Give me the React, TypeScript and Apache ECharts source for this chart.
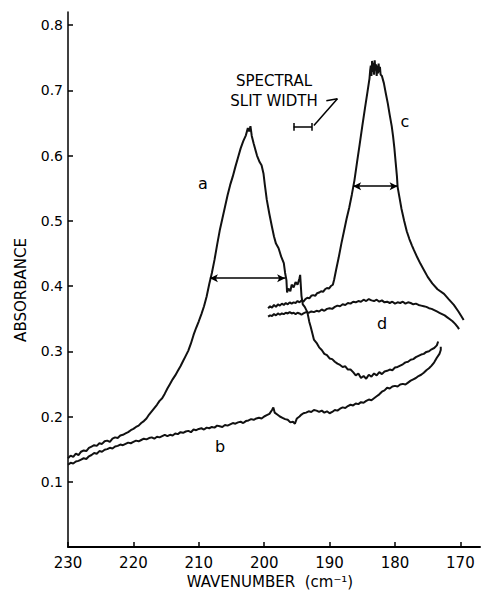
import React, { useEffect, useRef } from "react";
import * as echarts from "echarts";

// Wavenumber (cm^-1) tick labels and absorbance tick labels
const xTicks = [230, 220, 210, 200, 190, 180, 170];
const yTicks = [0.1, 0.2, 0.3, 0.4, 0.5, 0.6, 0.7, 0.8];

// Curve a
const curveA: [number, number][] = [
  [230.0,0.136],[229.6,0.140],[229.2,0.138],[228.8,0.143],[228.4,0.141],[228.0,0.146],[227.6,0.148],[227.2,0.147],
  [226.8,0.152],[226.4,0.154],[226.0,0.156],[225.6,0.155],[225.2,0.159],[224.8,0.158],[224.4,0.162],[224.0,0.163],
  [223.6,0.161],[223.2,0.166],[222.8,0.168],[222.4,0.167],[222.0,0.171],[221.6,0.172],[221.2,0.174],[220.8,0.176],
  [220.4,0.179],[220.0,0.181],[219.6,0.184],[219.2,0.186],[218.8,0.190],[218.4,0.193],[218.0,0.197],[217.6,0.203],
  [217.2,0.208],[216.8,0.213],[216.4,0.218],[216.0,0.224],[215.6,0.228],[215.2,0.235],[214.8,0.243],[214.4,0.250],
  [214.0,0.257],[213.6,0.263],[213.2,0.270],[212.8,0.277],[212.4,0.285],[212.0,0.293],[211.6,0.301],[211.2,0.312],
  [210.8,0.325],[210.4,0.336],[210.0,0.346],[209.6,0.357],[209.2,0.369],[208.8,0.384],[208.4,0.403],[208.0,0.420],
  [207.6,0.440],[207.2,0.463],[206.8,0.485],[206.4,0.503],[206.0,0.521],[205.6,0.539],[205.2,0.555],[204.8,0.568],
  [204.4,0.583],[204.0,0.597],[203.6,0.611],[203.2,0.622],[202.8,0.631],[202.5,0.642],[202.3,0.637],[202.1,0.645],
  [201.9,0.630],[201.6,0.618],[201.1,0.600],[200.7,0.590],[200.4,0.585],[200.1,0.572],[199.9,0.555],[199.6,0.532],
  [199.2,0.510],[198.8,0.490],[198.5,0.476],[198.2,0.465],[197.8,0.458],[197.4,0.445],[197.0,0.435],[196.8,0.420],
  [196.6,0.409],[196.5,0.390],[196.3,0.396],[196.0,0.392],[195.8,0.402],[195.5,0.398],[195.2,0.406],[194.9,0.402],
  [194.6,0.412],[194.5,0.417],[194.3,0.385],[194.1,0.372],[193.8,0.368],[193.4,0.360],[193.1,0.345],[192.9,0.338],
  [192.6,0.326],[192.4,0.318],[192.0,0.313],[191.6,0.306],[191.2,0.302],[190.8,0.296],[190.4,0.294],[190.0,0.289],
  [189.6,0.288],[189.2,0.284],[188.8,0.281],[188.4,0.279],[188.0,0.276],[187.6,0.277],[187.2,0.272],[186.8,0.272],
  [186.4,0.268],[186.0,0.263],[185.6,0.266],[185.2,0.259],[184.8,0.262],[184.4,0.258],[184.0,0.264],[183.6,0.261],
  [183.2,0.266],[182.8,0.263],[182.4,0.268],[182.0,0.265],[181.6,0.269],[181.2,0.270],[180.8,0.272],[180.4,0.271],
  [180.0,0.275],[179.6,0.276],[179.2,0.278],[178.8,0.280],[178.4,0.283],[178.0,0.284],[177.6,0.287],[177.2,0.288],
  [176.8,0.291],[176.4,0.293],[176.0,0.295],[175.6,0.296],[175.2,0.299],[174.8,0.300],[174.4,0.303],[174.0,0.305],
  [173.6,0.309],[173.4,0.315]
];

// Curve b
const curveB: [number, number][] = [
  [230.0,0.126],[229.6,0.129],[229.2,0.128],[228.8,0.131],[228.4,0.132],[228.0,0.134],[227.6,0.136],[227.2,0.135],
  [226.8,0.139],[226.4,0.141],[226.0,0.144],[225.6,0.143],[225.2,0.147],[224.8,0.146],[224.4,0.149],[224.0,0.150],
  [223.6,0.152],[223.2,0.151],[222.8,0.154],[222.4,0.155],[222.0,0.157],[221.6,0.156],[221.2,0.158],[220.8,0.160],
  [220.4,0.159],[220.0,0.161],[219.6,0.163],[219.2,0.162],[218.8,0.164],[218.4,0.166],[218.0,0.165],[217.6,0.167],
  [217.2,0.168],[216.8,0.166],[216.4,0.169],[216.0,0.168],[215.6,0.170],[215.2,0.172],[214.8,0.170],[214.4,0.172],
  [214.0,0.171],[213.6,0.174],[213.2,0.173],[212.8,0.176],[212.4,0.175],[212.0,0.177],[211.6,0.178],[211.2,0.176],
  [210.8,0.180],[210.4,0.179],[210.0,0.181],[209.6,0.182],[209.2,0.180],[208.8,0.183],[208.4,0.182],[208.0,0.184],
  [207.6,0.183],[207.2,0.186],[206.8,0.185],[206.4,0.184],[206.0,0.187],[205.6,0.186],[205.2,0.188],[204.8,0.190],
  [204.4,0.189],[204.0,0.191],[203.6,0.192],[203.2,0.190],[202.8,0.193],[202.4,0.194],[202.0,0.196],[201.6,0.195],
  [201.2,0.197],[200.8,0.198],[200.4,0.197],[200.0,0.200],[199.6,0.202],[199.2,0.204],[198.8,0.210],[198.6,0.214],
  [198.4,0.206],[198.0,0.203],[197.6,0.200],[197.2,0.198],[196.8,0.196],[196.4,0.195],[196.0,0.191],[195.6,0.192],
  [195.3,0.189],[195.0,0.197],[194.6,0.200],[194.3,0.203],[194.0,0.205],[193.6,0.206],[193.2,0.208],[192.8,0.207],
  [192.4,0.210],[192.0,0.209],[191.6,0.207],[191.2,0.209],[190.8,0.206],[190.4,0.208],[190.0,0.205],[189.6,0.207],
  [189.2,0.210],[188.8,0.209],[188.4,0.212],[188.0,0.214],[187.6,0.213],[187.2,0.216],[186.8,0.218],[186.4,0.217],
  [186.0,0.220],[185.6,0.219],[185.2,0.222],[184.8,0.221],[184.4,0.224],[184.0,0.226],[183.6,0.225],[183.2,0.228],
  [182.8,0.231],[182.4,0.234],[182.0,0.238],[181.6,0.240],[181.2,0.244],[180.8,0.243],[180.4,0.246],[180.0,0.247],
  [179.6,0.246],[179.2,0.249],[178.8,0.250],[178.4,0.249],[178.0,0.252],[177.6,0.255],[177.2,0.257],[176.8,0.259],
  [176.4,0.262],[176.0,0.264],[175.6,0.267],[175.2,0.271],[174.8,0.274],[174.4,0.278],[174.0,0.283],[173.6,0.290],
  [173.2,0.296],[173.0,0.302],[173.0,0.307]
];

// Curve c
const curveC: [number, number][] = [
  [199.4,0.366],[199.1,0.369],[198.8,0.367],[198.5,0.371],[198.2,0.368],[197.9,0.372],[197.6,0.370],[197.3,0.373],
  [197.0,0.371],[196.7,0.374],[196.4,0.372],[196.1,0.375],[195.8,0.373],[195.5,0.375],[195.2,0.374],[194.9,0.377],
  [194.6,0.375],[194.3,0.378],[194.0,0.376],[193.7,0.380],[193.4,0.382],[193.1,0.381],[192.8,0.385],[192.5,0.386],
  [192.2,0.385],[191.9,0.389],[191.6,0.390],[191.3,0.392],[191.0,0.391],[190.7,0.395],[190.4,0.397],[190.1,0.396],
  [189.8,0.400],[189.5,0.402],[189.3,0.410],[189.0,0.425],[188.6,0.444],[188.2,0.465],[187.8,0.484],[187.4,0.503],
  [187.0,0.520],[186.6,0.540],[186.2,0.562],[185.8,0.590],[185.4,0.617],[185.0,0.645],[184.6,0.672],[184.2,0.698],
  [183.9,0.718],[183.8,0.730],[183.7,0.738],[183.6,0.722],[183.5,0.745],[183.4,0.728],[183.3,0.742],[183.2,0.724],
  [183.1,0.746],[183.0,0.730],[182.9,0.740],[182.8,0.722],[182.7,0.738],[182.6,0.726],[182.5,0.741],[182.4,0.728],
  [182.3,0.736],[182.2,0.724],[182.0,0.722],[181.7,0.711],[181.4,0.695],[181.1,0.680],[180.8,0.662],[180.5,0.645],
  [180.3,0.630],[180.1,0.612],[179.9,0.590],[179.7,0.568],[179.6,0.552],[179.3,0.535],[179.0,0.518],[178.6,0.500],
  [178.2,0.484],[177.8,0.472],[177.4,0.462],[177.1,0.455],[176.6,0.444],[176.1,0.434],[175.6,0.425],[175.0,0.414],
  [174.3,0.404],[173.5,0.395],[172.5,0.388],[171.8,0.380],[171.0,0.371],[170.3,0.361],[169.8,0.353],[169.5,0.348]
];

// Curve d
const curveD: [number, number][] = [
  [199.4,0.353],[199.1,0.355],[198.8,0.354],[198.5,0.357],[198.2,0.355],[197.9,0.358],[197.6,0.356],[197.3,0.358],
  [197.0,0.357],[196.7,0.359],[196.4,0.358],[196.1,0.360],[195.8,0.358],[195.5,0.359],[195.2,0.357],[194.9,0.359],
  [194.6,0.358],[194.3,0.356],[194.0,0.358],[193.6,0.360],[193.2,0.359],[192.8,0.361],[192.4,0.360],[192.0,0.362],
  [191.6,0.361],[191.2,0.364],[190.8,0.362],[190.4,0.365],[190.0,0.366],[189.6,0.365],[189.2,0.368],[188.8,0.370],
  [188.4,0.369],[188.0,0.372],[187.6,0.371],[187.2,0.374],[186.8,0.373],[186.4,0.376],[186.0,0.375],[185.6,0.377],
  [185.2,0.376],[184.8,0.379],[184.4,0.377],[184.0,0.380],[183.6,0.378],[183.2,0.377],[182.8,0.379],[182.4,0.376],
  [182.0,0.378],[181.6,0.375],[181.2,0.376],[180.8,0.374],[180.4,0.376],[180.0,0.373],[179.6,0.375],[179.2,0.374],
  [178.8,0.376],[178.4,0.373],[178.0,0.375],[177.6,0.374],[177.2,0.372],[176.8,0.373],[176.4,0.371],[176.0,0.370],
  [175.6,0.369],[175.2,0.368],[174.8,0.366],[174.4,0.365],[174.0,0.363],[173.6,0.361],[173.2,0.359],[172.8,0.357],
  [172.4,0.355],[172.0,0.352],[171.6,0.349],[171.2,0.346],[170.8,0.342],[170.4,0.337],[170.2,0.334]
];

// Half-width markers (wavenumber from, wavenumber to, absorbance)
const halfWidthA = [208.3, 196.8, 0.412];
const halfWidthC = [186.4, 179.6, 0.553];
// Spectral slit width bracket (from, to, absorbance)
const slitWidth = [195.5, 192.7, 0.644];
// Leader line from the slit-width label to the bracket
const slitLeader: [number, number][] = [[190.5, 0.684], [188.8, 0.687], [192.4, 0.646]];

const FONT = "DejaVu Sans";

export default function App() {
  const ref = useRef<HTMLDivElement>(null);
  useEffect(() => {
    if (!ref.current) return;
    const chart = echarts.init(ref.current, undefined, { renderer: "svg" });
    const lineStyle = { color: "#111", width: 2 };
    const mk = (p: number[]) => ({ coord: p });
    const arrowPair = (x1: number, x2: number, y: number) => [
      { coord: [x1, y], symbol: "arrow", symbolSize: [6, 8] },
      { coord: [x2, y], symbol: "arrow", symbolSize: [6, 8] },
    ];
    const capH = 0.006;
    const option: any = {
      animation: false,
      backgroundColor: "#fff",
      grid: { left: 68, right: 2, top: 12, bottom: 46 },
      xAxis: {
        type: "value",
        min: 167,
        max: 230,
        inverse: true,
        splitLine: { show: false },
        axisLine: { show: true, onZero: false, lineStyle: { color: "#000", width: 2 } },
        axisTick: { show: true, inside: true, length: 5, customValues: xTicks, lineStyle: { color: "#000", width: 1.5 } },
        axisLabel: { customValues: xTicks, color: "#000", fontFamily: FONT, fontSize: 15, margin: 8 },
      },
      yAxis: {
        type: "value",
        min: 0,
        max: 0.82,
        splitLine: { show: false },
        axisLine: { show: true, onZero: false, lineStyle: { color: "#000", width: 1.5 } },
        axisTick: { show: true, inside: true, length: 5, customValues: yTicks, lineStyle: { color: "#000", width: 1.5 } },
        axisLabel: { customValues: yTicks, color: "#000", fontFamily: FONT, fontSize: 14, margin: 5, formatter: (v: number) => v.toFixed(1) },
      },
      series: [
        { type: "line", data: curveA, showSymbol: false, lineStyle, silent: true },
        { type: "line", data: curveB, showSymbol: false, lineStyle, silent: true },
        { type: "line", data: curveC, showSymbol: false, lineStyle, silent: true },
        { type: "line", data: curveD, showSymbol: false, lineStyle, silent: true },
        {
          type: "line",
          data: [],
          silent: true,
          markLine: {
            silent: true,
            animation: false,
            symbol: "none",
            label: { show: false },
            lineStyle: { color: "#000", width: 1.5, type: "solid" },
            data: [
              arrowPair(halfWidthA[0], halfWidthA[1], halfWidthA[2]),
              arrowPair(halfWidthC[0], halfWidthC[1], halfWidthC[2]),
              [mk([slitWidth[0], slitWidth[2]]), mk([slitWidth[1], slitWidth[2]])],
              [mk([slitWidth[0], slitWidth[2] - capH]), mk([slitWidth[0], slitWidth[2] + capH])],
              [mk([slitWidth[1], slitWidth[2] - capH]), mk([slitWidth[1], slitWidth[2] + capH])],
              [mk(slitLeader[0]), mk(slitLeader[1])],
              [mk(slitLeader[1]), mk(slitLeader[2])],
            ],
          },
        },
      ],
      graphic: [
        { type: "text", x: 21, y: 290, rotation: Math.PI / 2, style: { text: "ABSORBANCE", fill: "#000", font: `15px "${FONT}"`, textAlign: "center", textVerticalAlign: "middle" } },
        { type: "text", x: 270, y: 582, style: { text: "WAVENUMBER  (cm⁻¹)", fill: "#000", font: `15px "${FONT}"`, textAlign: "center", textVerticalAlign: "middle" } },
        { type: "text", x: 274, y: 81, style: { text: "SPECTRAL", fill: "#000", font: `15px "${FONT}"`, textAlign: "center", textVerticalAlign: "middle" } },
        { type: "text", x: 274, y: 101, style: { text: "SLIT WIDTH", fill: "#000", font: `15px "${FONT}"`, textAlign: "center", textVerticalAlign: "middle" } },
        { type: "text", x: 203, y: 183, style: { text: "a", fill: "#000", font: `16px "${FONT}"`, textAlign: "center", textVerticalAlign: "middle" } },
        { type: "text", x: 220, y: 446, style: { text: "b", fill: "#000", font: `16px "${FONT}"`, textAlign: "center", textVerticalAlign: "middle" } },
        { type: "text", x: 405, y: 121, style: { text: "c", fill: "#000", font: `16px "${FONT}"`, textAlign: "center", textVerticalAlign: "middle" } },
        { type: "text", x: 382, y: 323, style: { text: "d", fill: "#000", font: `16px "${FONT}"`, textAlign: "center", textVerticalAlign: "middle" } },
      ],
    };
    chart.setOption(option);
    return () => chart.dispose();
  }, []);
  return <div ref={ref} style={{ width: 482, height: 593, position: "absolute", left: 0, top: 0 }} />;
}
